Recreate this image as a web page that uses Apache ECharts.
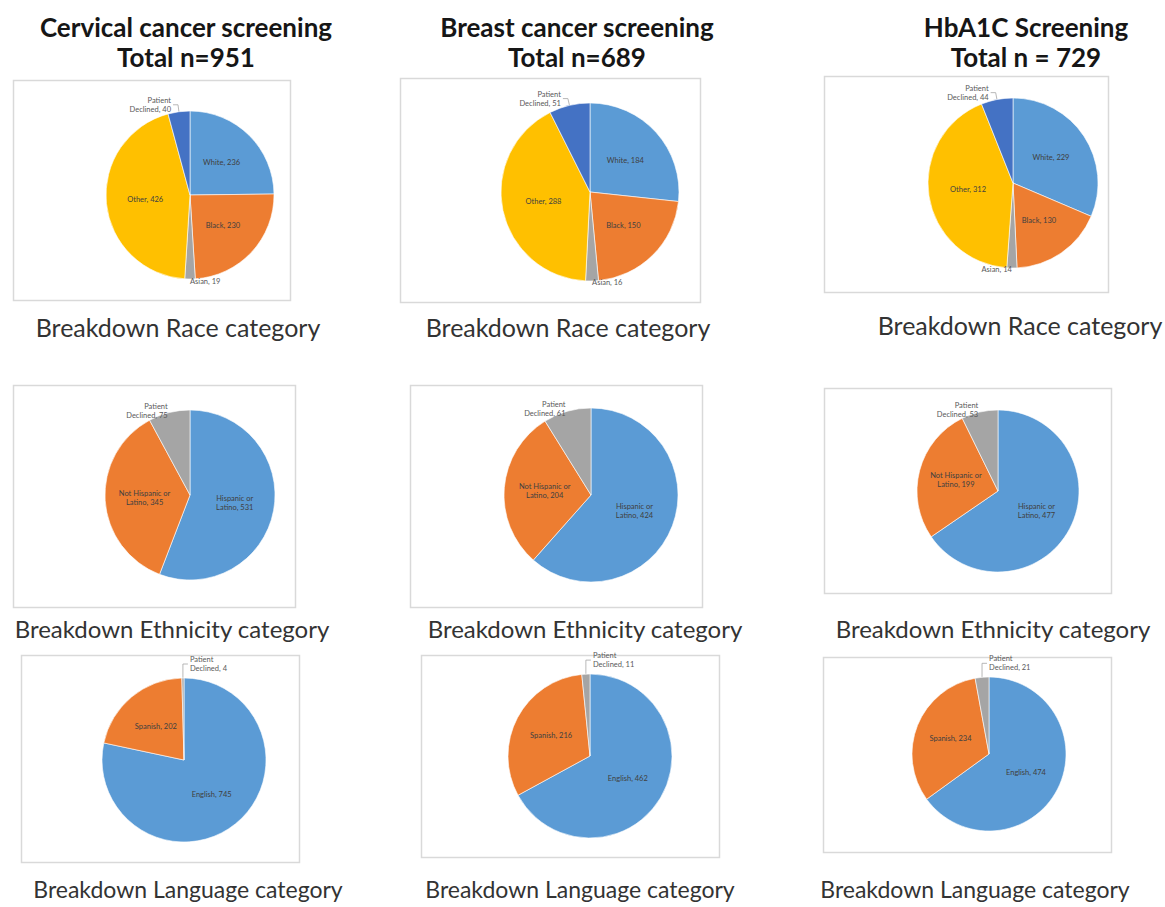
<!DOCTYPE html>
<html>
<head>
<meta charset="utf-8">
<script src="https://cdn.jsdelivr.net/npm/echarts@6/dist/echarts.min.js"></script>
<style>
html,body{margin:0;padding:0;background:#fff;}
#chart{width:1165px;height:907px;}
</style>
</head>
<body>
<div id="chart"></div>
<script>
// ---- data ----
const screeningTitles = ['Cervical cancer screening', 'Breast cancer screening', 'HbA1C Screening'];
const totalLabels = ['Total n=951', 'Total n=689', 'Total n = 729'];
const captions = ['Breakdown Race category', 'Breakdown Ethnicity category', 'Breakdown Language category'];

const raceCategories = ['White', 'Black', 'Asian', 'Other', 'Patient Declined'];
const cervicalRace = [236, 230, 19, 426, 40];
const breastRace = [184, 150, 16, 288, 51];
const hba1cRace = [229, 130, 14, 312, 44];

const ethnicityCategories = ['Hispanic or Latino', 'Not Hispanic or Latino', 'Patient Declined'];
const cervicalEthnicity = [531, 345, 75];
const breastEthnicity = [424, 204, 61];
const hba1cEthnicity = [477, 199, 53];

const languageCategories = ['English', 'Spanish', 'Patient Declined'];
const cervicalLanguage = [745, 202, 4];
const breastLanguage = [462, 216, 11];
const hba1cLanguage = [474, 234, 21];

// ---- layout / style ----
const raceColors = ['#5B9BD5', '#ED7D31', '#A5A5A5', '#FFC000', '#4472C4'];
const threeColors = ['#5B9BD5', '#ED7D31', '#A5A5A5'];
const wrapNames = {
  'Patient Declined': 'Patient\nDeclined',
  'Hispanic or Latino': 'Hispanic or\nLatino',
  'Not Hispanic or Latino': 'Not Hispanic or\nLatino'
};
const panels = [
  {kind: 'race', cats: raceCategories, vals: cervicalRace, colors: raceColors, center: [190, 195], r: 84, box: [13, 80, 277, 220]},
  {kind: 'race', cats: raceCategories, vals: breastRace, colors: raceColors, center: [590, 192], r: 89, box: [400, 78, 300, 224]},
  {kind: 'race', cats: raceCategories, vals: hba1cRace, colors: raceColors, center: [1013, 183], r: 85, box: [824, 76, 284, 216]},
  {kind: 'eth', cats: ethnicityCategories, vals: cervicalEthnicity, colors: threeColors, center: [190, 495], r: 85, box: [13, 385, 282, 222]},
  {kind: 'eth', cats: ethnicityCategories, vals: breastEthnicity, colors: threeColors, center: [591, 495], r: 87, box: [410, 385, 292, 222]},
  {kind: 'eth', cats: ethnicityCategories, vals: hba1cEthnicity, colors: threeColors, center: [998, 491], r: 81, box: [824, 388, 287, 205]},
  {kind: 'lang', cats: languageCategories, vals: cervicalLanguage, colors: threeColors, center: [184, 760], r: 82, box: [21, 655, 278, 207]},
  {kind: 'lang', cats: languageCategories, vals: breastLanguage, colors: threeColors, center: [590, 756], r: 82, box: [421, 655, 298, 202]},
  {kind: 'lang', cats: languageCategories, vals: hba1cLanguage, colors: threeColors, center: [989, 754], r: 77, box: [823, 657, 288, 195]}
];
const titleCenters = [186, 577, 1026];
const captionSizes = [25, 24, 23];
const captionPos = [
  [[178, 327], [568, 327], [1020, 325]],
  [[172, 628], [585, 628], [993, 628]],
  [[188, 889], [580, 889], [975, 889]]
];

const FONT = 'Lato, "Noto Sans", sans-serif';
const graphics = [];
panels.forEach(p => {
  graphics.push({
    type: 'rect', silent: true, z: 0,
    shape: {x: p.box[0] + 0.5, y: p.box[1] + 0.5, width: p.box[2], height: p.box[3]},
    style: {fill: '#fff', stroke: '#d9d9d9', lineWidth: 1.5}
  });
});
screeningTitles.forEach((t, i) => {
  graphics.push({
    type: 'text', silent: true,
    style: {x: titleCenters[i], y: 12, text: t + '\n' + totalLabels[i], align: 'center', verticalAlign: 'top',
      font: 'bold 26px ' + FONT, lineHeight: 30, fill: '#161616'}
  });
});
captions.forEach((c, row) => {
  captionPos[row].forEach(pos => {
    graphics.push({
      type: 'text', silent: true,
      style: {x: pos[0], y: pos[1], text: c, align: 'center', verticalAlign: 'middle',
        font: captionSizes[row] + 'px ' + FONT, fill: '#333'}
    });
  });
});

function langDeclinedLayout(params) {
  if (params.dataIndex !== 2 || !params.labelLinePoints) return {};
  const p0 = params.labelLinePoints[0];
  const top = [p0[0], p0[1] - 14];
  const end = [p0[0] + 5, p0[1] - 14];
  return {
    x: end[0] + 2, y: end[1], align: 'left', verticalAlign: 'middle',
    labelLinePoints: [p0, top, end]
  };
}

const series = panels.map(p => ({
  type: 'pie',
  center: p.center,
  radius: p.r,
  startAngle: 90,
  clockwise: true,
  avoidLabelOverlap: false,
  z: 2,
  itemStyle: {borderColor: '#fff', borderWidth: 0.6},
  label: {
    show: true, position: 'inside', fontFamily: FONT, fontSize: 7.5, color: '#404040', lineHeight: 9,
    formatter: prm => (wrapNames[prm.name] || prm.name) + ', ' + prm.value
  },
  labelLine: {show: false},
  labelLayout: p.kind === 'lang' ? langDeclinedLayout : null,
  data: p.cats.map((name, k) => {
    const item = {name: name, value: p.vals[k], itemStyle: {color: p.colors[k]}};
    if (name === 'Patient Declined' && p.kind === 'race') {
      item.label = {position: 'outside', color: '#595959', distanceToLabelLine: 2};
      item.labelLine = {show: true, length: 7, length2: 5, lineStyle: {color: '#a6a6a6', width: 0.8}};
    } else if (name === 'Patient Declined' && p.kind === 'lang') {
      item.label = {position: 'outside', color: '#595959', distanceToLabelLine: 2};
      item.labelLine = {show: true, length: 4, length2: 6, lineStyle: {color: '#a6a6a6', width: 0.8}};
    } else if (name === 'Patient Declined') {
      item.label = {position: 'outside', color: '#595959', distanceToLabelLine: 1};
      item.labelLine = {show: false, length: 2, length2: 0};
    } else if (name === 'Asian') {
      item.label = {position: 'outside', color: '#595959', distanceToLabelLine: 0};
      item.labelLine = {show: false, length: 2, length2: 0};
    }
    return item;
  })
}));

const chart = echarts.init(document.getElementById('chart'), null, {renderer: 'svg'});
chart.setOption({
  backgroundColor: '#fff',
  animation: false,
  graphic: graphics,
  series: series
});
</script>
</body>
</html>
